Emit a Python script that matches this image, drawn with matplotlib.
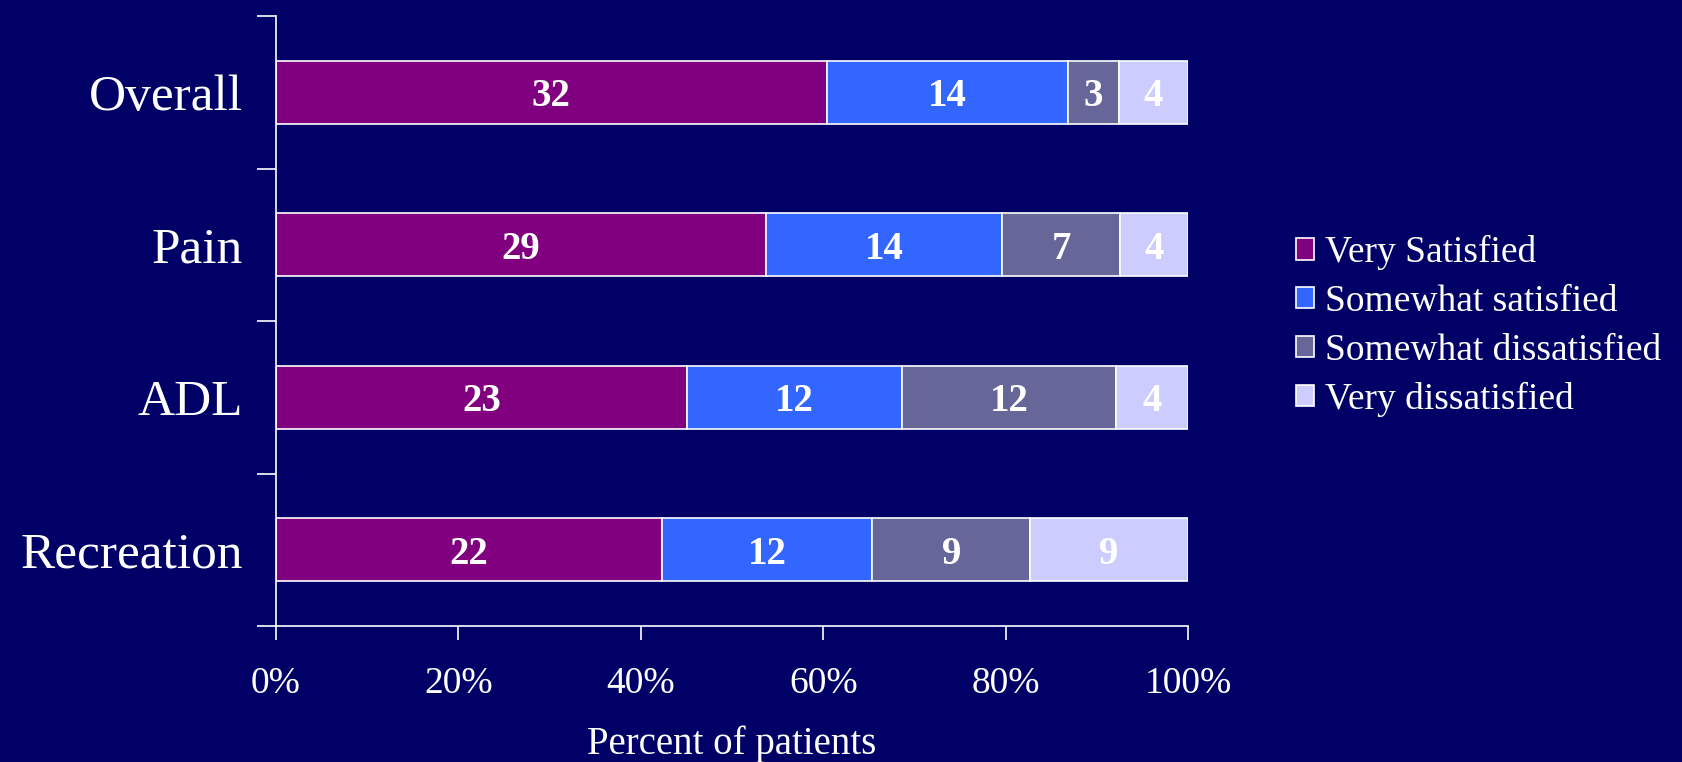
import matplotlib.pyplot as plt
import numpy as np
from matplotlib.patches import Patch

categories = ['Overall', 'Pain', 'ADL', 'Recreation']
series_names = ['Very Satisfied', 'Somewhat satisfied', 'Somewhat dissatisfied', 'Very dissatisfied']
very_sat = [32, 29, 23, 22]
some_sat = [14, 14, 12, 12]
some_dis = [3, 7, 12, 9]
very_dis = [4, 4, 4, 9]
colors = ['#800080', '#3366FF', '#666699', '#CCCCFF']
xtick_labels = ['0%', '20%', '40%', '60%', '80%', '100%']

bg = '#000066'
plt.rcParams['font.family'] = ['Liberation Serif', 'DejaVu Serif']

fig = plt.figure(figsize=(16.83, 7.62), dpi=100, facecolor=bg)
ax = fig.add_axes([276 / 1683, 1 - 626 / 762, (1188 - 276) / 1683, (626 - 16) / 762])
ax.set_facecolor(bg)

counts = np.array([very_sat, some_sat, some_dis, very_dis], dtype=float)
totals = counts.sum(axis=0)
pct = counts / totals * 100
y = np.arange(len(categories))

left = np.zeros(len(categories))
for i in range(4):
    ax.barh(y, pct[i], left=left, height=0.41, color=colors[i],
            edgecolor='white', linewidth=1.2)
    for j in range(len(categories)):
        ax.text(left[j] + pct[i][j] / 2, y[j], '%d' % counts[i][j],
                ha='center', va='center_baseline', color='white', fontsize=28,
                fontweight='bold')
    left += pct[i]

ax.set_xlim(0, 100)
ax.set_ylim(3.5, -0.5)

# category labels at centres, ticks at boundaries
ax.set_yticks(np.arange(-0.5, 4, 1))
ax.set_yticklabels([])
ax.set_yticks(y, minor=True)
ax.set_yticklabels(categories, minor=True, fontsize=37, color='white')
ax.tick_params(axis='y', which='major', length=14, width=1.2, color='white', direction='out')
ax.tick_params(axis='y', which='minor', length=0, pad=24)

ax.set_xticks(np.arange(0, 101, 20))
ax.set_xticklabels(xtick_labels, fontsize=27, color='white')
ax.tick_params(axis='x', length=10, width=1.2, color='white', direction='out', pad=19)

for s in ['top', 'right']:
    ax.spines[s].set_visible(False)
for s in ['left', 'bottom']:
    ax.spines[s].set_color('white')
    ax.spines[s].set_linewidth(1.2)

ax.set_xlabel('Percent of patients', fontsize=28, color='white', labelpad=18)

handles = [Patch(facecolor=c, edgecolor='white', linewidth=1.2) for c in colors]
leg = fig.legend(handles, series_names, loc='center left', bbox_to_anchor=(1262 / 1683, 1 - 326 / 762),
                 frameon=False, fontsize=27, labelcolor='white', handlelength=0.5,
                 handleheight=0.5, handletextpad=0.27, labelspacing=0.38)

fig.savefig('out.png', facecolor=bg)
